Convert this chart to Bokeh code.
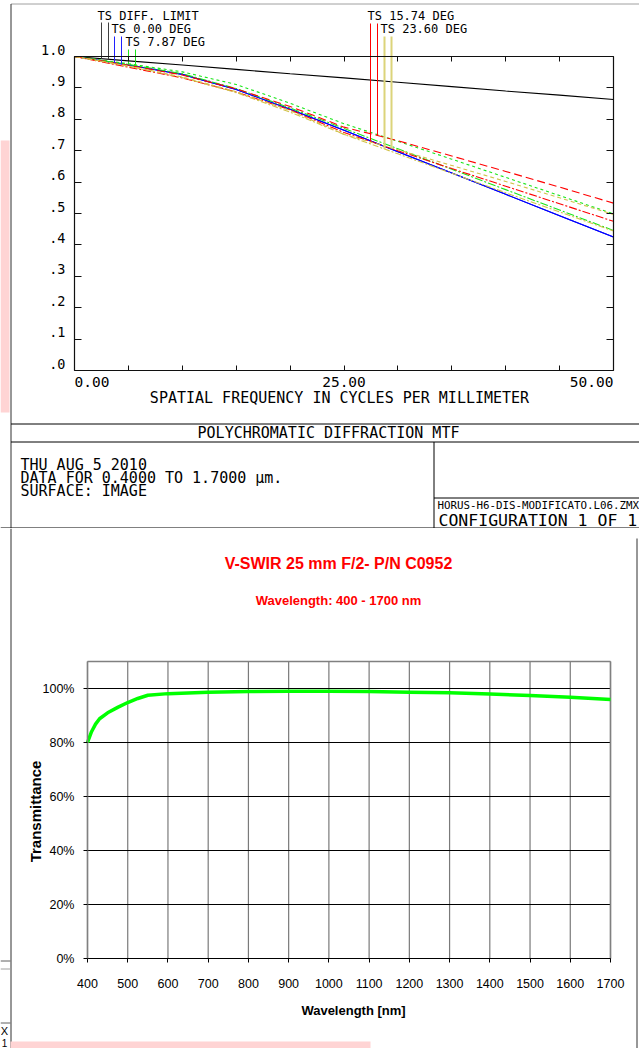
import numpy as np
from bokeh.plotting import figure
from bokeh.models import (Range1d, LinearAxis, FixedTicker, PrintfTickFormatter,
                          CustomJSTickFormatter, ColumnDataSource)
from bokeh.core.properties import value
from bokeh.layouts import column
from bokeh.embed import file_html
from bokeh.resources import INLINE

# ------------------------------------------------------------------
# Data: polychromatic diffraction MTF (Zemax plot)
# ------------------------------------------------------------------
freq = [0, 5, 10, 15, 20, 25, 30, 35, 40, 45, 50]
mtf_diff_limit = [1.000, 0.986, 0.973, 0.959, 0.945, 0.932, 0.918, 0.904, 0.890, 0.877, 0.863]
mtf_000_t = [1.000, 0.973, 0.943, 0.895, 0.832, 0.765, 0.697, 0.629, 0.561, 0.493, 0.425]
mtf_000_s = [1.000, 0.973, 0.943, 0.895, 0.832, 0.765, 0.697, 0.629, 0.561, 0.493, 0.425]
mtf_787_t = [1.000, 0.975, 0.945, 0.898, 0.836, 0.771, 0.706, 0.641, 0.576, 0.511, 0.446]
mtf_787_s = [1.000, 0.977, 0.951, 0.911, 0.851, 0.786, 0.730, 0.673, 0.615, 0.557, 0.499]
mtf_1574_t = [1.000, 0.966, 0.932, 0.887, 0.830, 0.758, 0.700, 0.643, 0.587, 0.531, 0.475]
mtf_1574_s = [1.000, 0.972, 0.941, 0.897, 0.841, 0.775, 0.732, 0.683, 0.634, 0.584, 0.533]
mtf_2360_t = [1.000, 0.969, 0.933, 0.885, 0.823, 0.752, 0.690, 0.628, 0.566, 0.505, 0.444]
mtf_2360_s = [1.000, 0.970, 0.935, 0.888, 0.828, 0.752, 0.703, 0.653, 0.602, 0.550, 0.497]

field_labels = ["TS DIFF. LIMIT", "TS 0.00 DEG", "TS 7.87 DEG", "TS 15.74 DEG", "TS 23.60 DEG"]
mtf_yticks = [0.0, 0.1, 0.2, 0.3, 0.4, 0.5, 0.6, 0.7, 0.8, 0.9, 1.0]
mtf_ytick_labels = [".0", ".1", ".2", ".3", ".4", ".5", ".6", ".7", ".8", ".9", "1.0"]
mtf_xticks = [0, 5, 10, 15, 20, 25, 30, 35, 40, 45, 50]
mtf_xlabel_values = [0, 25, 50]
mtf_xlabel_texts = ["0.00", "25.00", "50.00"]

# ------------------------------------------------------------------
# Data: transmittance curve
# ------------------------------------------------------------------
wavelength = [400, 410, 420, 430, 450, 475, 500, 525, 550, 600, 700, 800, 900,
              1000, 1100, 1200, 1300, 1400, 1500, 1600, 1700]
transmittance = [80.0, 84.0, 86.8, 88.8, 91.0, 93.0, 94.8, 96.3, 97.5, 98.1, 98.6, 98.9, 99.0,
                 99.0, 98.9, 98.6, 98.4, 98.0, 97.4, 96.8, 95.9]
wl_ticks = [400, 500, 600, 700, 800, 900, 1000, 1100, 1200, 1300, 1400, 1500, 1600, 1700]
tr_ticks = [0, 20, 40, 60, 80, 100]
tr_top = 110

MONO = "DejaVu Sans Mono"
SANS = "Liberation Sans"

W = 639
H1 = 528
H2 = 520


def add_text(p, xs, ys, texts, font, size, align="left", baseline="middle",
             color="black", style="normal", angle=0.0):
    src = ColumnDataSource(dict(x=list(xs), y=list(ys), text=list(texts)))
    p.text(x="x", y="y", text="text", source=src, text_font=value(font),
           text_font_size=size, text_align=align, text_baseline=baseline,
           text_color=color, text_font_style=style, angle=angle)


def blank_labels(ax):
    ax.formatter = CustomJSTickFormatter(code="return ''")


# ------------------------------------------------------------------
# Top panel : MTF  (page pixel -> data helpers)
# ------------------------------------------------------------------
def tx(px):
    return (px - 74) * 50 / 539


def ty(py):
    return (370 - py) / 314


p1 = figure(width=W, height=H1, x_range=Range1d(tx(0), tx(W)), y_range=Range1d(ty(H1), ty(0)),
            min_border=0, x_axis_type=None, y_axis_type=None,
            output_backend="svg", toolbar_location=None, title=None)
p1.outline_line_color = None
p1.background_fill_color = "white"
p1.border_fill_color = "white"

axes_spec = [("below", 0, (0, 50), mtf_xticks, 5),
             ("above", 1, (0, 50), mtf_xticks, 5),
             ("left", 0, (0, 1), mtf_yticks, 7),
             ("right", 50, (0, 1), mtf_yticks, 7)]
for side, loc, bnds, ticks, tin in axes_spec:
    ax = LinearAxis(fixed_location=loc, bounds=bnds, ticker=FixedTicker(ticks=ticks))
    ax.major_tick_in = tin
    ax.major_tick_out = 0
    ax.minor_tick_line_color = None
    ax.axis_line_color = "#101010"
    ax.major_tick_line_color = "#101010"
    ax.axis_line_width = 1.2
    blank_labels(ax)
    p1.add_layout(ax, side)

# light pink artefact on the far left
p1.quad(left=[tx(0)], right=[tx(9)], top=[ty(140)], bottom=[ty(412)],
        fill_color="#ffd4d4", line_color=None)

YEL = "#d2c24a"
GRN = "#19e619"
curves = [
    (mtf_diff_limit, "black", "solid"),
    (mtf_000_t, "#0000ff", "solid"),
    (mtf_000_s, "#0000ff", "solid"),
    (mtf_787_t, GRN, "8 2 2 2"),
    (mtf_787_s, GRN, "3 3"),
    (mtf_1574_t, "#ff0000", "8 2 2 2"),
    (mtf_1574_s, "#ff0000", "8 4"),
    (mtf_2360_t, YEL, "6 2 2 2"),
    (mtf_2360_s, YEL, "4 3"),
]
for ys, col, dash in curves:
    p1.line(freq, ys, line_color=col, line_width=1.1, line_dash=dash)

# legend markers: two short vertical lines per field (T, S) dropping to the curves
groups = [
    (field_labels[0], "#404040", mtf_diff_limit, mtf_diff_limit, 101, 22, 97, 15, 1.0),
    (field_labels[1], "#2020ff", mtf_000_t, mtf_000_s, 114, 36, 111, 28, 1.0),
    (field_labels[2], GRN, mtf_787_t, mtf_787_s, 128, 49, 125, 41, 1.0),
    (field_labels[3], "#ff0000", mtf_1574_t, mtf_1574_s, 370, 23, 367, 15, 1.0),
    (field_labels[4], "#dcd47a", mtf_2360_t, mtf_2360_s, 384, 36, 380, 28, 2.0),
]
for lab, col, ct, cs, lx, ltop, tx0, tyc, lw in groups:
    xs = [tx(lx), tx(lx + 7)]
    yb = [float(np.interp(xs[0], freq, ct)), float(np.interp(xs[1], freq, cs))]
    p1.segment(x0=xs, y0=[ty(ltop)] * 2, x1=xs, y1=yb, line_color=col, line_width=lw)
    add_text(p1, [tx(tx0)], [ty(tyc)], [lab], MONO, "12px")

# y tick labels (sitting slightly above each tick, as Zemax draws them)
add_text(p1, [tx(65)] * len(mtf_yticks), [v + 7 / 314 for v in mtf_yticks], mtf_ytick_labels,
         MONO, "13.5px", align="right")
# x tick labels
for v, t, al in zip(mtf_xlabel_values, mtf_xlabel_texts, ["left", "center", "right"]):
    add_text(p1, [v], [ty(381.5)], [t], MONO, "14.5px", align=al)
add_text(p1, [tx(339)], [ty(397.5)], ["SPATIAL FREQUENCY IN CYCLES PER MILLIMETER"],
         MONO, "15px", align="center")

# frame / title block lines
frame_x0 = [tx(10.5), tx(10.5), tx(10.5), tx(10.5), tx(0), tx(433.5), tx(433.5)]
frame_y0 = [ty(3.5), ty(3.5), ty(423.5), ty(441.5), ty(527.5), ty(441.5), ty(497.5)]
frame_x1 = [tx(W), tx(10.5), tx(W), tx(W), tx(W), tx(433.5), tx(W)]
frame_y1 = [ty(3.5), ty(528), ty(423.5), ty(441.5), ty(527.5), ty(527.5), ty(497.5)]
frame_col = ["#a0a0a0", "#303030", "black", "black", "black", "black", "black"]
p1.segment(x0=frame_x0, y0=frame_y0, x1=frame_x1, y1=frame_y1, line_color=frame_col,
           line_width=1)

add_text(p1, [tx(328)], [ty(432.5)], ["POLYCHROMATIC DIFFRACTION MTF"], MONO, "15px",
         align="center")
add_text(p1, [tx(20)] * 3, [ty(464), ty(477), ty(490)],
         ["THU AUG 5 2010", "DATA FOR 0.4000 TO 1.7000 \u00b5m.", "SURFACE: IMAGE"],
         MONO, "15px")
add_text(p1, [tx(437)], [ty(505)], ["HORUS-H6-DIS-MODIFICATO.L06.ZMX"], MONO, "10.8px")
add_text(p1, [tx(438)], [ty(519.5)], ["CONFIGURATION 1 OF 1"], MONO, "16.5px")

# ------------------------------------------------------------------
# Bottom panel : transmittance
# ------------------------------------------------------------------
Y0 = H1  # page y of the bottom panel top


def bx(px):
    return 400 + (px - 87) * 1300 / 523


def by(py):
    return (958 - py) * tr_top / 297


p2 = figure(width=W, height=H2, x_range=Range1d(bx(0), bx(W)), y_range=Range1d(by(Y0 + H2), by(Y0)),
            min_border=0, x_axis_type=None, y_axis_type=None,
            output_backend="svg", toolbar_location=None, title=None)
p2.outline_line_color = None
p2.background_fill_color = "white"
p2.border_fill_color = "white"

# grid lines
p2.segment(x0=wl_ticks, y0=[0] * len(wl_ticks), x1=wl_ticks, y1=[tr_top] * len(wl_ticks),
           line_color="#7a7a7a", line_width=1.2)
p2.segment(x0=[400] * len(tr_ticks), y0=tr_ticks, x1=[1700] * len(tr_ticks), y1=tr_ticks,
           line_color="black", line_width=1)
# plot-area border (top / right)
p2.segment(x0=[400, 1700], y0=[tr_top, 0], x1=[1700, 1700], y1=[tr_top, tr_top],
           line_color="#808080", line_width=1.5)

xax = LinearAxis(fixed_location=0, bounds=(400, 1700), ticker=FixedTicker(ticks=wl_ticks))
yax = LinearAxis(fixed_location=400, bounds=(0, tr_top), ticker=FixedTicker(ticks=tr_ticks),
                 formatter=PrintfTickFormatter(format="%d%%"))
for ax in [xax, yax]:
    ax.major_tick_in = 0
    ax.major_tick_out = 4
    ax.minor_tick_line_color = None
    ax.major_tick_line_color = "black"
    ax.major_label_text_font = SANS
    ax.major_label_text_font_size = "12.5px"
    ax.major_label_text_color = "black"
xax.axis_line_color = "black"
yax.axis_line_color = "#808080"
yax.axis_line_width = 1.5
xax.major_label_standoff = 16
yax.major_label_standoff = 9
p2.add_layout(xax, "below")
p2.add_layout(yax, "left")

p2.line(wavelength, transmittance, line_color="#00ff00", line_width=3.5, line_join="round")

add_text(p2, [bx(353)], [by(1010)], ["Wavelength [nm]"], SANS, "13px", align="center",
         style="bold")
add_text(p2, [bx(35)], [by(811)], ["Transmittance"], SANS, "15px", align="center",
         style="bold", angle=np.pi / 2)
add_text(p2, [bx(338)], [by(563)], ["V-SWIR 25 mm F/2- P/N C0952"], SANS, "16px",
         align="center", style="bold", color="#ff0000")
add_text(p2, [bx(338)], [by(600)], ["Wavelength: 400 - 1700 nm"], SANS, "13px",
         align="center", style="bold", color="#ff0000")

# panel borders and left-edge artefacts
p2.segment(x0=[bx(10.5), bx(636.5), bx(0), bx(0), bx(0)],
           y0=[by(Y0), by(538), by(960.5), by(968.5), by(1022.5)],
           x1=[bx(10.5), bx(636.5), bx(10), bx(10), bx(10)],
           y1=[by(Y0 + H2), by(Y0 + H2), by(960.5), by(968.5), by(1022.5)],
           line_color=["#303030", "#303030", "#606060", "#a0a0a0", "#606060"], line_width=1)
p2.quad(left=[bx(10)], right=[bx(370)], top=[by(1041)], bottom=[by(1048)],
        fill_color="#ffd4d4", line_color=None)
add_text(p2, [bx(4)], [by(1030)], ["X"], SANS, "11px", align="center")
add_text(p2, [bx(4)], [by(1042)], ["1"], SANS, "10px", align="center")

layout = column(p1, p2, spacing=0)
open("out.html", "w").write(file_html(layout, INLINE))
